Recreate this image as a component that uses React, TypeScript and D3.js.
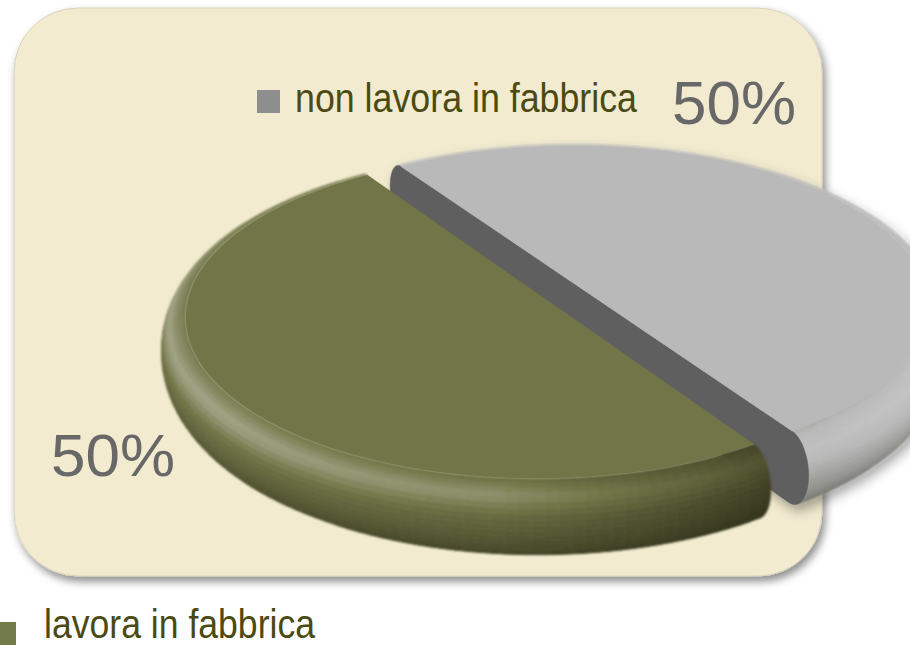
import React from 'react';
import * as d3 from 'd3';

// chart data
const categories = ['non lavora in fabbrica', 'lavora in fabbrica'];
const values = [50, 50];
const percentLabels = ['50%', '50%'];
const sliceColors = ['#b9b9b9', '#717547'];
const legendColors = ['#8e8e8e', '#737a4a'];

const W = 910;
const H = 645;

// 3d view
const view = {
  cx: 558,
  cy: 290,
  s: 2442,
  D: 6.5,
  phi: (26.9 * Math.PI) / 180,
};
const thickness = 0.2;
const bevel = 0.07;
const explode = 0.057;

const project = (X: number, Z: number, Y: number): [number, number] => {
  const sp = Math.sin(view.phi);
  const cp = Math.cos(view.phi);
  const depth = view.D - Y * sp - Z * cp;
  return [view.cx + (view.s * X) / depth, view.cy + (view.s * (Z * sp - Y * cp)) / depth];
};

const depthOf = (X: number, Z: number, Y: number) =>
  view.D - Y * Math.sin(view.phi) - Z * Math.cos(view.phi);

const camera = [0, view.D * Math.sin(view.phi), view.D * Math.cos(view.phi)];

// rim profile: psi 0 (top) -> PI (bottom)
const profile = (psi: number) => ({
  r: 1 - bevel + bevel * Math.sin(psi),
  y: -(thickness / 2) * (1 - Math.cos(psi)),
  nr: Math.sin(psi) / bevel,
  ny: Math.cos(psi) / (thickness / 2),
});

const profileShades = [
  d3.scaleLinear<number>().domain([0, 0.1, 0.25, 0.45, 0.65, 0.8]).range([1.0, 1.12, 1.22, 1.0, 0.78, 0.6]).clamp(true),
  d3.scaleLinear<number>().domain([0, 0.1, 0.22, 0.4, 0.6, 0.8]).range([1.0, 1.15, 1.38, 0.95, 0.7, 0.48]).clamp(true),
];

const deg = (a: number) => (a * 180) / Math.PI;

const angleShades = [
  d3.scaleLinear<number>().domain([-34, 60, 110, 147]).range([1.0, 1.0, 1.0, 0.9]).clamp(true),
  d3.scaleLinear<number>().domain([146, 160, 185, 230, 327]).range([0.45, 0.62, 0.9, 1.02, 1.02]).clamp(true),
];

const shade = (base: string, k: number) => {
  if (k >= 1) return d3.interpolateRgb(base, '#ffffff')(Math.min(1, (k - 1) * 0.85));
  return d3.interpolateRgb('#1a1a0a', base)(Math.max(0, k));
};

const line = d3.line<[number, number]>().curve(d3.curveLinearClosed);

const pie = d3
  .pie<number>()
  .sort(null)
  .startAngle((-33.4 * Math.PI) / 180)
  .endAngle((-33.4 * Math.PI) / 180 + 2 * Math.PI);

type Quad = { d: string; fill: string; depth: number };

function buildSlice(arc: d3.PieArcDatum<number>, i: number) {
  const a0 = arc.startAngle;
  const a1 = arc.endAngle;
  const mid = (a0 + a1) / 2;
  const ox = explode * Math.sin(mid);
  const oz = -explode * Math.cos(mid);
  const base = sliceColors[i];

  const nA = 100;
  const nP = 22;
  const angles = d3.range(nA + 1).map((k) => a0 + ((a1 - a0) * k) / nA);
  const psis = d3.range(nP + 1).map((k) => (Math.PI * k) / nP);

  const pt = (a: number, psi: number) => {
    const p = profile(psi);
    return { X: ox + p.r * Math.sin(a), Z: oz - p.r * Math.cos(a), Y: p.y };
  };

  const quads: Quad[] = [];
  for (let ia = 0; ia < nA; ia++) {
    for (let ip = 0; ip < nP; ip++) {
      const am = (angles[ia] + angles[ia + 1]) / 2;
      const pm = (psis[ip] + psis[ip + 1]) / 2;
      const pr = profile(pm);
      const nx = pr.nr * Math.sin(am);
      const nz = -pr.nr * Math.cos(am);
      const ny = pr.ny;
      const c = pt(am, pm);
      const dot = nx * (camera[0] - c.X) + ny * (camera[1] - c.Y) + nz * (camera[2] - c.Z);
      if (dot <= 0) continue;
      const corners = [
        pt(angles[ia], psis[ip]),
        pt(angles[ia + 1], psis[ip]),
        pt(angles[ia + 1], psis[ip + 1]),
        pt(angles[ia], psis[ip + 1]),
      ].map((q) => project(q.X, q.Z, q.Y));
      const k = profileShades[i](pm / Math.PI) * angleShades[i](deg(am));
      quads.push({ d: line(corners) as string, fill: shade(base, k), depth: depthOf(c.X, c.Z, c.Y) });
    }
  }
  quads.sort((a, b) => b.depth - a.depth);

  // top face
  const topPts: [number, number][] = angles.map((a) =>
    project(ox + (1 - bevel) * Math.sin(a), oz - (1 - bevel) * Math.cos(a), 0)
  );
  topPts.push(project(ox, oz, 0));

  // cut face along the diameter
  const dx = Math.sin(a1);
  const dz = -Math.cos(a1);
  const sec: [number, number][] = [];
  psis.forEach((p) => {
    const pr = profile(p);
    sec.push([pr.r, pr.y]);
  });
  [...psis].reverse().forEach((p) => {
    const pr = profile(p);
    sec.push([-pr.r, pr.y]);
  });
  const cutPts = sec.map(([rho, y]) => project(ox + rho * dx, oz + rho * dz, y));
  // outward normal of the cut face points against the explode direction
  const cn = [-Math.sin(mid), Math.cos(mid)];
  const cdot = cn[0] * (camera[0] - ox) + cn[1] * (camera[2] - oz);
  return {
    quads,
    top: line(topPts) as string,
    cut: cdot > 0 ? (line(cutPts) as string) : null,
  };
}

export default function App() {
  const arcs = pie(values);
  const slices = arcs.map((a, i) => buildSlice(a, i));

  return (
    <svg
      width={W}
      height={H}
      style={{ position: 'absolute', left: 0, top: 0 }}
      fontFamily="'Liberation Sans', Arial, sans-serif"
    >
      <defs>
        <filter id="shadow" x="-10%" y="-10%" width="120%" height="120%">
          <feDropShadow dx="3" dy="5" stdDeviation="4" floodColor="#000" floodOpacity="0.45" />
        </filter>
        <filter id="pieShadow" x="-10%" y="-10%" width="130%" height="130%">
          <feDropShadow dx="4" dy="6" stdDeviation="6" floodColor="#000" floodOpacity="0.35" />
        </filter>
        <filter id="soft" x="-5%" y="-5%" width="110%" height="110%">
          <feGaussianBlur stdDeviation="0.9" />
        </filter>
      </defs>
      <rect width={W} height={H} fill="#ffffff" />
      <rect
        x={14}
        y={8}
        width={808}
        height={568}
        rx={64}
        fill="#f2ebd0"
        stroke="#d6d1bd"
        strokeWidth={1}
        filter="url(#shadow)"
      />

      {/* grey first, green in front */}
      {[0, 1].map((i) => (
        <g key={categories[i]} filter={i === 0 ? 'url(#pieShadow)' : undefined}>
          <g filter="url(#soft)">
            {slices[i].quads.map((q, k) => (
              <path key={k} d={q.d} fill={q.fill} stroke={q.fill} strokeWidth={0.6} />
            ))}
          </g>
          {slices[i].cut && <path d={slices[i].cut!} fill="#5f5f5f" stroke="#5f5f5f" strokeWidth={0.5} />}
          <path d={slices[i].top} fill={sliceColors[i]} stroke={sliceColors[i]} strokeWidth={0.5} />
        </g>
      ))}

      {/* legend: non lavora */}
      <rect x={257} y={90} width={23} height={23} fill={legendColors[0]} />
      <text x={295} y={112} fontSize={40} fill="#4b4a12" textLength={342} lengthAdjust="spacingAndGlyphs">
        {categories[0]}
      </text>
      <text x={672} y={124} fontSize={62} fill="#686868" textLength={124} lengthAdjust="spacingAndGlyphs">
        {percentLabels[0]}
      </text>

      <text x={51} y={476} fontSize={60} fill="#686868" textLength={124} lengthAdjust="spacingAndGlyphs">
        {percentLabels[1]}
      </text>

      {/* legend: lavora */}
      <rect x={-7} y={622} width={23} height={23} fill={legendColors[1]} />
      <text x={44} y={638} fontSize={40} fill="#4b4a12" textLength={271} lengthAdjust="spacingAndGlyphs">
        {categories[1]}
      </text>
    </svg>
  );
}
